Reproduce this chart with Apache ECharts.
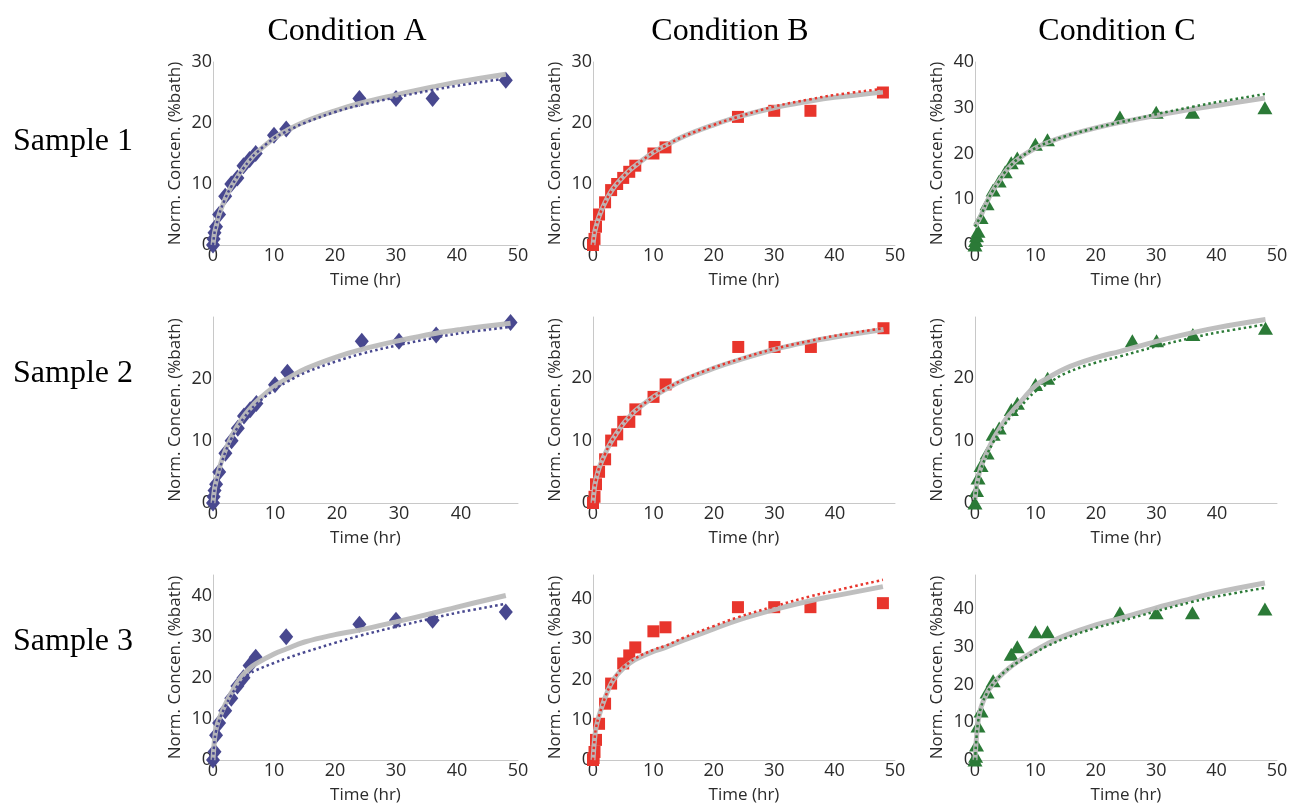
<!DOCTYPE html>
<html>
<head>
<meta charset="utf-8">
<script src="https://cdn.jsdelivr.net/npm/echarts@6/dist/echarts.min.js"></script>
<style>
html,body{margin:0;padding:0;background:#fff;}
#c{width:1293px;height:807px;}
</style>
</head>
<body>
<div id="c"></div>
<script>
// ---------- DATA ----------
var conditions = ['Condition A', 'Condition B', 'Condition C'];
var samples = ['Sample 1', 'Sample 2', 'Sample 3'];
var xTicks = [0, 10, 20, 30, 40, 50];

// fit-curve time grid
var fitTimes = [0, 0.25, 0.5, 1, 2, 3, 4, 5, 6, 7, 10, 12, 15, 20, 24, 30, 36, 40, 48];

// Sample 1
var timesA1 = [0, 0.1, 0.25, 0.5, 1, 2, 3, 4, 5, 6, 7, 10, 12, 24, 30, 36, 48];
var valuesA1 = [0, 1, 2, 3, 5, 8, 10, 11, 13, 14, 15, 18, 19, 24, 24, 24, 27];
var grayA1 = [0, 2, 3, 5, 7.6, 9.6, 11.2, 12.6, 13.9, 15, 17.5, 18.7, 20.2, 22, 23.2, 24.6, 25.9, 26.7, 28];
var dotA1 = [0, 2, 3, 5, 7.6, 9.6, 11.2, 12.6, 13.9, 15, 17.5, 18.6, 20, 21.8, 22.9, 24.2, 25.4, 26.1, 27.3];

var timesB1 = [0, 0.25, 0.5, 1, 2, 3, 4, 5, 6, 7, 10, 12, 24, 30, 36, 48];
var valuesB1 = [0, 1, 3, 5, 7, 9, 10, 11, 12, 13, 15, 16, 21, 22, 22, 25];
var grayB1 = [0, 2, 3, 4.7, 7, 8.8, 10.1, 11.2, 12.2, 13, 15.2, 16.3, 17.8, 19.7, 21, 22.5, 23.6, 24.2, 25.1];
var dotB1 = [0, 2, 3, 4.7, 7, 8.8, 10.1, 11.2, 12.2, 13, 15.2, 16.3, 17.8, 19.7, 21, 22.7, 23.9, 24.6, 25.6];

var timesC1 = [0, 0.1, 0.25, 0.5, 1, 2, 3, 4, 5, 6, 7, 10, 12, 24, 30, 36, 48];
var valuesC1 = [0, 1, 2, 3, 6, 9, 12, 14, 16, 18, 19, 22, 23, 28, 29, 29, 30];
var grayC1 = [4, 4.6, 5.2, 6.5, 9.5, 12, 14, 16, 17.5, 18.7, 21.2, 22.4, 23.8, 25.6, 26.8, 28.3, 29.7, 30.5, 32.1];
var dotC1 = [4, 4.6, 5.2, 6.5, 9.5, 12, 14, 16, 17.5, 18.7, 21.2, 22.4, 23.8, 25.6, 26.8, 28.6, 30.2, 31.2, 33];

// Sample 2
var timesA2 = [0, 0.1, 0.25, 0.5, 1, 2, 3, 4, 5, 6, 7, 10, 12, 24, 30, 36, 48];
var valuesA2 = [0, 1, 2, 3, 5, 8, 10, 12, 14, 15, 16, 19, 21, 26, 26, 27, 29];
var grayA2 = [0, 2.3, 3.5, 5.5, 8.5, 10.7, 12.5, 14, 15.2, 16.3, 18.8, 20, 21.6, 23.5, 24.7, 26.1, 27.3, 27.9, 28.9];
var dotA2 = [0, 2.2, 3.3, 5.2, 8.2, 10.4, 12.2, 13.7, 14.9, 15.9, 18.3, 19.5, 21, 22.8, 24, 25.4, 26.6, 27.3, 28.3];

var timesB2 = [0, 0.25, 0.5, 1, 2, 3, 4, 5, 6, 7, 10, 12, 24, 30, 36, 48];
var valuesB2 = [0, 1, 3, 5, 7, 10, 11, 13, 13, 15, 17, 19, 25, 25, 25, 28];
var grayB2 = [0, 2.5, 3.8, 5.6, 7.9, 9.8, 11.3, 12.7, 13.8, 14.8, 17, 18.2, 19.7, 21.6, 22.9, 24.6, 25.9, 26.6, 27.8];
var dotB2 = [0, 2.5, 3.8, 5.6, 7.9, 9.8, 11.3, 12.7, 13.8, 14.8, 17, 18.2, 19.8, 21.7, 23, 24.7, 26, 26.8, 28];

var timesC2 = [0, 0.25, 0.5, 1, 2, 3, 4, 6, 7, 10, 12, 26, 30, 36, 48];
var valuesC2 = [0, 2, 4, 6, 8, 11, 12, 15, 16, 19, 20, 26, 26, 27, 28];
var grayC2 = [0.5, 2.8, 4, 5.8, 8.2, 10.2, 11.8, 13.3, 14.5, 15.6, 18.8, 20, 21.6, 23.3, 24.3, 25.9, 27.3, 28.1, 29.4];
var dotC2 = [0.5, 2.7, 3.8, 5.5, 7.8, 9.7, 11.3, 12.7, 13.9, 14.9, 17.9, 19.1, 20.8, 22.5, 23.5, 25.1, 26.5, 27.3, 28.6];

// Sample 3
var timesA3 = [0, 0.25, 0.5, 1, 2, 3, 4, 5, 6, 7, 12, 24, 30, 36, 48];
var valuesA3 = [0, 2, 6, 9, 12, 15, 18, 20, 23, 25, 30, 33, 34, 34, 36];
var grayA3 = [0, 5, 7.5, 10, 13.5, 16.3, 18.8, 20.8, 22.3, 23.4, 25.8, 27, 28.7, 30.5, 31.6, 33.6, 35.7, 37.2, 40];
var dotA3 = [0, 4.7, 7, 9.5, 13, 15.8, 18, 19.8, 21, 21.8, 23.6, 24.7, 26.2, 28.5, 30.2, 32.4, 34.5, 35.8, 38];

var timesB3 = [0, 0.1, 0.25, 0.5, 1, 2, 3, 5, 6, 7, 10, 12, 24, 30, 36, 48];
var valuesB3 = [0, 0.5, 2, 5, 9, 14, 19, 24, 26, 28, 32, 33, 38, 38, 38, 39];
var grayB3 = [0, 5, 8, 11, 15.5, 19, 21.2, 22.8, 24, 25, 27, 28, 29.8, 32.6, 34.8, 37.4, 39.6, 40.8, 43.1];
var dotB3 = [0, 5, 8, 11, 15.5, 19, 21.3, 23, 24.2, 25.3, 27.4, 28.4, 30.4, 33.3, 35.5, 38.2, 40.7, 42.1, 44.8];

var timesC3 = [0, 0.1, 0.25, 0.5, 1, 2, 3, 6, 7, 10, 12, 24, 30, 36, 48];
var valuesC3 = [0, 1, 4, 9, 13, 18, 21, 28, 30, 34, 34, 39, 39, 39, 40];
var grayC3 = [0, 6, 10, 14, 17.8, 20.2, 22, 23.5, 24.8, 26, 29, 30.8, 33, 35.8, 37.5, 40.3, 42.8, 44.4, 46.9];
var dotC3 = [0, 6, 10, 14, 17.8, 20.2, 22, 23.5, 24.7, 25.8, 28.5, 30.2, 32.3, 35, 36.7, 39.4, 41.9, 43.3, 45.6];

// axis extents per panel [xMax, yMax]
var extA1 = [50, 30], extB1 = [50, 30], extC1 = [50, 40];
var extA2 = [49.2, 29.9], extB2 = [49.9, 29.8], extC2 = [49.9, 29.8];
var extA3 = [50, 45], extB3 = [50, 46], extC3 = [50, 49];

// ---------- LAYOUT / STYLE ----------
var panels = [
  {t: timesA1, v: valuesA1, g: grayA1, d: dotA1, ext: extA1},
  {t: timesB1, v: valuesB1, g: grayB1, d: dotB1, ext: extB1},
  {t: timesC1, v: valuesC1, g: grayC1, d: dotC1, ext: extC1},
  {t: timesA2, v: valuesA2, g: grayA2, d: dotA2, ext: extA2},
  {t: timesB2, v: valuesB2, g: grayB2, d: dotB2, ext: extB2},
  {t: timesC2, v: valuesC2, g: grayC2, d: dotC2, ext: extC2},
  {t: timesA3, v: valuesA3, g: grayA3, d: dotA3, ext: extA3},
  {t: timesB3, v: valuesB3, g: grayB3, d: dotB3, ext: extB3},
  {t: timesC3, v: valuesC3, g: grayC3, d: dotC3, ext: extC3}
];
var colLeft = [213, 593, 975];
var colWidth = [305, 302, 302];
var rowTop = [62, 317, 575];
var rowHeight = [183, 186, 185];
var colColor = ['#48488f', '#e8352c', '#2b7a37'];
var colSymbol = ['diamond', 'rect', 'triangle'];
var colSymbolSize = [[14, 17], 12, [15, 13]];
var font = "'Open Sans', 'Noto Sans', sans-serif";
var textColor = '#2b2b2b';

function pairs(xs, ys) {
  var out = [];
  for (var i = 0; i < xs.length; i++) out.push([xs[i], ys[i]]);
  return out;
}

var grids = [], xAxes = [], yAxes = [], series = [];
panels.forEach(function (p, i) {
  var row = Math.floor(i / 3), col = i % 3;
  grids.push({left: colLeft[col], top: rowTop[row], width: colWidth[col], height: rowHeight[row], containLabel: false});
  xAxes.push({
    type: 'value', gridIndex: i, min: 0, max: p.ext[0], interval: 10,
    name: 'Time (hr)', nameLocation: 'middle', nameGap: 27,
    nameTextStyle: {fontFamily: font, fontSize: 17, color: textColor},
    axisLine: {lineStyle: {color: '#c8c8c8', width: 1}},
    axisTick: {show: false}, splitLine: {show: false},
    axisLabel: {fontFamily: font, fontSize: 18, color: textColor, margin: 2,
      formatter: function (v) { return (v % 10 === 0) ? String(v) : ''; }}
  });
  yAxes.push({
    type: 'value', gridIndex: i, min: 0, max: p.ext[1], interval: 10,
    name: 'Norm. Concen. (%bath)', nameLocation: 'middle', nameGap: 29,
    nameTextStyle: {fontFamily: font, fontSize: 17, color: textColor},
    axisLine: {show: true, lineStyle: {color: '#c8c8c8', width: 1}},
    axisTick: {show: false}, splitLine: {show: false},
    axisLabel: {fontFamily: font, fontSize: 18, color: textColor, margin: 1,
      formatter: function (v) { return (v % 10 === 0) ? String(v) : ''; }}
  });
  series.push({
    type: 'scatter', xAxisIndex: i, yAxisIndex: i, data: pairs(p.t, p.v),
    symbol: colSymbol[col], symbolSize: colSymbolSize[col],
    itemStyle: {color: colColor[col], opacity: 1}, z: 2, silent: true
  });
  series.push({
    type: 'line', xAxisIndex: i, yAxisIndex: i, data: pairs(fitTimes, p.g),
    smooth: 0.4, showSymbol: false, symbol: 'none',
    lineStyle: {color: '#bcbcbc', width: 5, opacity: 0.95}, z: 3, silent: true
  });
  series.push({
    type: 'line', xAxisIndex: i, yAxisIndex: i, data: pairs(fitTimes, p.d),
    smooth: 0.4, showSymbol: false, symbol: 'none',
    lineStyle: {color: colColor[col], width: 2.5, type: [2.5, 3]}, z: 4, silent: true
  });
});

var titles = [];
var condCenter = [342, 725, 1112];
var serif = "'Liberation Serif', 'Times New Roman', serif";
conditions.forEach(function (c, i) {
  titles.push({text: c, left: condCenter[i], top: 11, textAlign: 'center',
    textStyle: {fontFamily: serif, fontSize: 32, fontWeight: 'normal', color: '#000'}});
});
var sampleTop = [121, 353, 621];
samples.forEach(function (s, i) {
  titles.push({text: s, left: 8, top: sampleTop[i],
    textStyle: {fontFamily: serif, fontSize: 32, fontWeight: 'normal', color: '#000'}});
});

var chart = echarts.init(document.getElementById('c'), null, {renderer: 'canvas'});
chart.setOption({
  animation: false,
  backgroundColor: '#ffffff',
  title: titles,
  grid: grids,
  xAxis: xAxes,
  yAxis: yAxes,
  series: series
});
</script>
</body>
</html>
